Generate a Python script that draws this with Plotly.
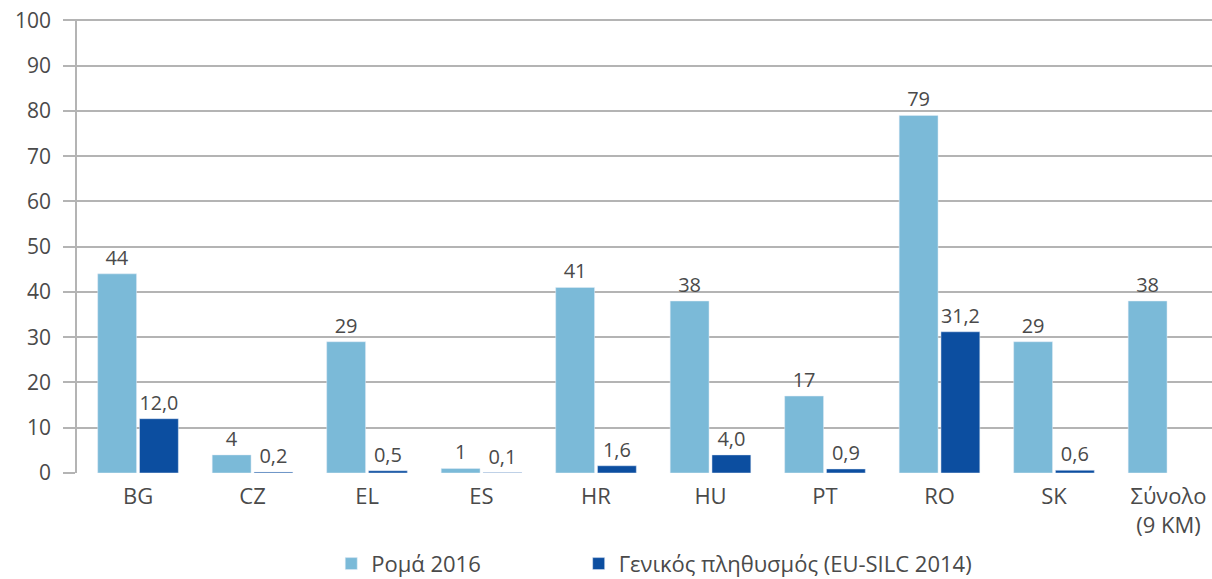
import plotly.graph_objects as go

categories = ["BG", "CZ", "EL", "ES", "HR", "HU", "PT", "RO", "SK", "Σύνολο<br>(9 KM)"]
roma_2016 = [44, 4, 29, 1, 41, 38, 17, 79, 29, 38]
general_pop = [12.0, 0.2, 0.5, 0.1, 1.6, 4.0, 0.9, 31.2, 0.6, None]
y_ticks = [0, 10, 20, 30, 40, 50, 60, 70, 80, 90, 100]

def fmt_int(v):
    return "" if v is None else f"{v:.0f}"

def fmt_dec(v):
    return "" if v is None else f"{v:.1f}".replace(".", ",")

FONT = "Open Sans"
TXT = "#4a4a4a"

fig = go.Figure()
fig.add_trace(go.Bar(
    name="Ρομά 2016", x=categories, y=roma_2016,
    marker_color="#7bbad8", legend="legend",
    text=[fmt_int(v) for v in roma_2016], textposition="outside",
    textfont=dict(family=FONT, size=20, color=TXT), cliponaxis=False,
))
fig.add_trace(go.Bar(
    name="Γενικός πληθυσμός (EU-SILC 2014)", x=categories, y=general_pop,
    marker_color="#0c4ea0", legend="legend2",
    text=[fmt_dec(v) for v in general_pop], textposition="outside",
    textfont=dict(family=FONT, size=20, color=TXT), cliponaxis=False,
))

leg_common = dict(orientation="h", y=-0.2, yanchor="middle",
                  font=dict(family=FONT, size=22, color=TXT), itemwidth=30,
                  bgcolor="rgba(0,0,0,0)")

fig.update_layout(
    width=1212, height=579,
    margin=dict(l=77, r=0, t=19, b=106, autoexpand=False),
    paper_bgcolor="white", plot_bgcolor="white",
    barmode="group", bargap=0.27, bargroupgap=0.07,
    font=dict(family=FONT, color=TXT),
    showlegend=True,
    legend=dict(x=0.224, xanchor="left", **leg_common),
    legend2=dict(x=0.442, xanchor="left", **leg_common),
    xaxis=dict(range=[-0.533, 9.38], showgrid=False, showline=False, ticks="",
               automargin=False, ticklabeloverflow="allow",
               tickfont=dict(family=FONT, size=22, color=TXT), ticklabelstandoff=8),
    yaxis=dict(range=[0, 100.3], tickvals=y_ticks, showgrid=True, gridcolor="#b4b4b4", gridwidth=1.5,
               zeroline=False, showline=True, linecolor="#b4b4b4", linewidth=1.5,
               automargin=False, ticklabeloverflow="allow",
               ticks="outside", ticklen=12, tickcolor="#b4b4b4", tickwidth=1.5,
               tickfont=dict(family=FONT, size=21, color=TXT), ticklabelstandoff=8),
)

# remove the browser's default 8px page margin so the figure fills the window exactly
fig.write_html("out.html", config={"displayModeBar": False},
               post_script="document.body.style.margin='0px';")
